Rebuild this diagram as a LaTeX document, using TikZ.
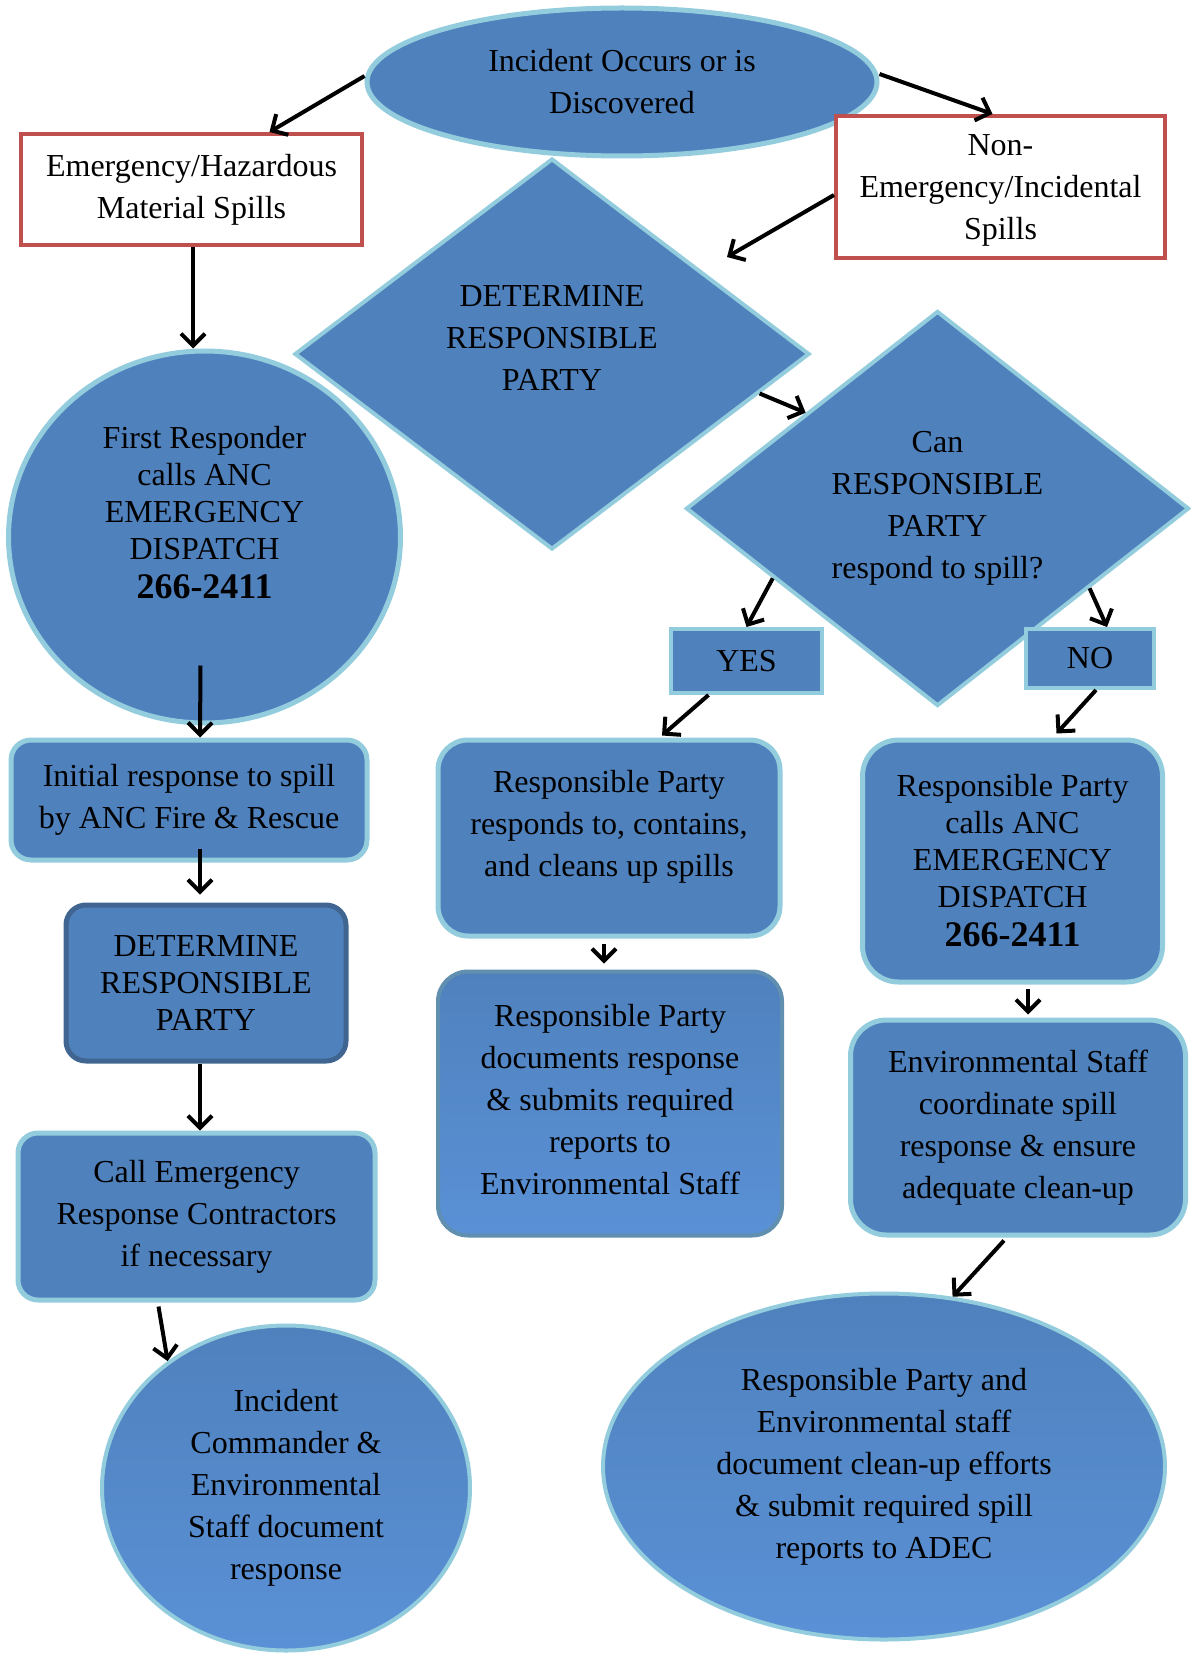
\documentclass[tikz,border=0pt]{standalone}
\usepackage{fontspec}
\setmainfont{Liberation Serif}
\usepackage{tikz}
\usepackage{xcolor}
\usetikzlibrary{positioning, arrows.meta, shapes.geometric, calc}

\definecolor{boxblue}{HTML}{4F81BD}
\definecolor{rimblue}{HTML}{93CDDD}
\definecolor{spillred}{HTML}{C0504D}
\definecolor{darkrim}{HTML}{3F6590}
\definecolor{glossblue}{HTML}{5A91D6}

\newcommand{\tightlines}{\fontsize{16}{18.5}\selectfont}
\newcommand{\phonenum}{{\fontsize{18}{20}\selectfont\bfseries 266-2411}}

\begin{document}
\begin{tikzpicture}[x=0.5pt, y=-0.5pt, font=\fontsize{16}{21}\selectfont,
        flow/.style={-{Straight Barb[length=6pt,width=12pt]}, line width=2pt},
        oval/.style={ellipse, fill=boxblue, draw=rimblue, line width=2.5pt, inner sep=0pt, align=center},
        spillbox/.style={rectangle, fill=white, draw=spillred, line width=2pt, inner sep=0pt, align=center},
        decision/.style={diamond, fill=boxblue, draw=rimblue, line width=2pt, inner sep=0pt, shape aspect=1.3, align=center},
        stepbox/.style={rectangle, rounded corners=10pt, fill=boxblue, draw=rimblue, line width=2.5pt, inner sep=0pt, align=center},
        answer/.style={rectangle, fill=boxblue, draw=rimblue, line width=2pt, inner sep=0pt},
        glossy/.style={top color=boxblue, bottom color=glossblue, draw=rimblue, line width=2pt, inner sep=0pt, align=center}]
                \useasboundingbox (0,0) rectangle (1190,1653);

                \node [oval, minimum width=255pt, minimum height=74pt] (incident) at (622,82) {Incident Occurs or is\\Discovered};
                \node [spillbox, minimum width=170.5pt, minimum height=55.5pt] (emerg) at (191.5,189.5) {Emergency/Hazardous\\Material Spills};
                \node [spillbox, minimum width=164.5pt, minimum height=71pt, text depth=0pt] (nonemerg) at (1000.5,187) {Non-\\Emergency/Incidental\\Spills};

                \node [decision, minimum width=257.5pt, minimum height=195.5pt, text depth=16pt] (detrp) at (552,354) {DETERMINE\\RESPONSIBLE\\PARTY};
                \node [decision, minimum width=251.5pt, minimum height=197.5pt] (canrp) at (937.5,508.5) {Can\\RESPONSIBLE\\PARTY\\respond to spill?};

                \node [oval, minimum width=196pt, minimum height=186pt, text depth=25pt, font=\tightlines] (firstresp) at (204.5,537) {First Responder\\calls ANC\\EMERGENCY\\DISPATCH\\[1pt]\phonenum};
                \node [stepbox, minimum width=178pt, minimum height=60pt, below=6pt of firstresp, xshift=-7.75pt] (initial) {Initial response to spill\\by ANC Fire \& Rescue};
                \node [stepbox, draw=darkrim, minimum width=140pt, minimum height=78pt, font=\tightlines, below=20pt of initial, xshift=8.5pt] (detbox) {DETERMINE\\RESPONSIBLE\\PARTY};
                \node [stepbox, minimum width=178.5pt, minimum height=83.5pt, below=33.5pt of detbox, xshift=-4.75pt] (contract) {Call Emergency\\Response Contractors\\if necessary};
                \node [glossy, ellipse, minimum width=184pt, minimum height=162.5pt, below=10.5pt of contract, xshift=44.75pt] (icdoc) {Incident\\Commander \&\\Environmental\\Staff document\\response};

                \node [answer, minimum width=75.5pt, minimum height=32pt] (yes) at (746.5,661) {YES};
                \node [answer, minimum width=64pt, minimum height=29.5pt] (no) at (1090,658.5) {NO};

                \node [stepbox, rounded corners=15pt, minimum width=171pt, minimum height=98pt, text depth=14.5pt] (responds) at (609,838) {Responsible Party\\responds to, contains,\\and cleans up spills};
                \node [glossy, rounded corners=15pt, draw=darkrim!60!rimblue, minimum width=172pt, minimum height=132pt, text depth=4pt, below=15.5pt of responds, xshift=0.5pt] (rpdoc) {Responsible Party\\documents response\\\& submits required\\reports to\\Environmental Staff};

                \node [stepbox, rounded corners=18pt, minimum width=150pt, minimum height=121pt, font=\tightlines] (rpcalls) at (1012.5,861) {Responsible Party\\calls ANC\\EMERGENCY\\DISPATCH\\[1pt]\phonenum};
                \node [stepbox, rounded corners=18pt, minimum width=167.5pt, minimum height=107.5pt, below=16.5pt of rpcalls, xshift=2.75pt] (envstaff) {Environmental Staff\\coordinate spill\\response \& ensure\\adequate clean-up};
                \node [glossy, ellipse, minimum width=281pt, minimum height=173pt, below=27pt of envstaff, xshift=-67pt] (adec) {Responsible Party and\\Environmental staff\\document clean-up efforts\\\& submit required spill\\reports to ADEC};

                \draw[flow] ([yshift=3pt]incident.west) -- ([xshift=39pt]emerg.north);
                \draw[flow] ([yshift=4pt]incident.east) -- ([xshift=-4pt]nonemerg.north);
                \draw[flow] ([yshift=-4pt]nonemerg.west) -- ([xshift=87.5pt,yshift=48.5pt]detrp.center);
                \draw[flow] ([xshift=0.75pt]emerg.south) -- ([xshift=0.75pt]emerg.south |- firstresp.north);
                \draw[flow] ($(detrp.east)!0.2!(detrp.south)$) -- ($(canrp.west)!0.48!(canrp.north)$);
                \draw[flow] ([xshift=-2pt,yshift=30pt]firstresp.south) -- ([xshift=5.5pt]initial.north);
                \draw[flow] ([xshift=5.5pt,yshift=7pt]initial.south) -- ([xshift=-3pt,yshift=4pt]detbox.north);
                \draw[flow] ([xshift=-3pt]detbox.south) -- ([xshift=1.75pt]contract.north);
                \draw[flow] ([xshift=-19pt,yshift=-2pt]contract.south) -- (icdoc.133);
                \draw[flow] ($(canrp.west)!0.35!(canrp.south)$) -- (yes.north);
                \draw[flow] ($(canrp.east)!0.4!(canrp.south)$) -- ([xshift=8.5pt]no.north);
                \draw[flow] ([xshift=-19pt]yes.south) -- ([xshift=26.5pt,yshift=1pt]responds.north);
                \draw[flow] ([xshift=3pt]no.south) -- ([xshift=22pt,yshift=2pt]rpcalls.north);
                \draw[flow] ([xshift=-2.5pt,yshift=-2.5pt]responds.south) -- ([xshift=-3pt,yshift=3pt]rpdoc.north);
                \draw[flow] ([xshift=7.75pt,yshift=-2pt]rpcalls.south) -- ([xshift=5pt,yshift=1.5pt]envstaff.north);
                \draw[flow] ([xshift=-7pt,yshift=-1.5pt]envstaff.south) -- (adec.68);
            \end{tikzpicture}
\end{document}
